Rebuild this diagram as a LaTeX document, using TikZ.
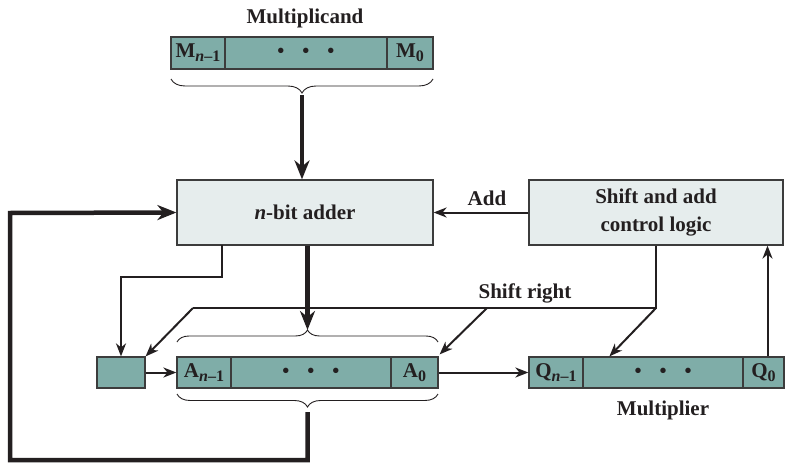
\documentclass[tikz,border=0pt]{standalone}
\usepackage{fontspec}
\setmainfont{Liberation Serif}
\usetikzlibrary{arrows.meta,decorations.pathreplacing}
\definecolor{regfill}{RGB}{127,173,168}
\definecolor{boxfill}{RGB}{230,237,237}
\definecolor{edge}{RGB}{60,60,60}
\definecolor{ink}{RGB}{35,31,32}
\newcommand{\lsub}[1]{\raisebox{-0.4ex}{\fontsize{16}{16}\selectfont #1}}
\newcommand{\threedots}{{\fontsize{20}{20}\selectfont •\hspace{18pt}•\hspace{18pt}•}}
\begin{document}
\begin{tikzpicture}[x=1pt,y=-1pt,
  font=\fontsize{21}{28}\selectfont\bfseries, text=ink,
  cell/.style={draw=edge, line width=1.2pt, fill=regfill, inner sep=0pt, minimum height=31pt},
  unit/.style={draw=edge, line width=1.2pt, fill=boxfill, inner sep=0pt, minimum height=65pt, align=center},
  lbl/.style={inner sep=0pt},
  thinline/.style={draw=ink, line width=2pt},
  thinarrow/.style={thinline, -{Stealth[length=13pt,width=10pt,inset=4pt]}},
  thickline/.style={draw=ink, line width=4.5pt},
  thickarrow/.style={thickline, -{Stealth[length=19pt,width=15pt,inset=6pt]}},
  bracestyle/.style={draw=ink, line width=0.9pt, decorate, decoration={brace, amplitude=13pt}},
  bracedown/.style={draw=ink, line width=0.9pt, decorate, decoration={brace, mirror, amplitude=14pt}}
]
\useasboundingbox (0,0) rectangle (785,463);

% Multiplicand
\node[lbl] (mlabel) at (305,18) {Multiplicand};
\node[cell, minimum width=54pt, minimum height=32pt] (m1) at (198,53) {M\lsub{\textit{n}–1}};
\node[cell, minimum width=162pt, minimum height=32pt] (m2) at (306,53) {\threedots};
\node[cell, minimum width=46pt, minimum height=32pt] (m3) at (410,53) {M\lsub{0}};
\draw[bracedown] (171,79) -- (433,79);
\coordinate (mtip) at (302,95);

% Units
\node[unit, minimum width=256pt] (adder) at (305,212.5) {\textit{n}-bit adder};
\node[unit, minimum width=254pt] (ctrl) at (656,212.5) {Shift and add\\control logic};

% A register
\node[cell, minimum width=48pt] (cbox) at (121,372.5) {};
\node[cell, minimum width=54pt] (a1) at (204,372.5) {A\lsub{\textit{n}–1}};
\node[cell, minimum width=160pt] (a2) at (311,372.5) {\threedots};
\node[cell, minimum width=47pt] (a3) at (414.5,372.5) {A\lsub{0}};
\draw[bracestyle, decoration={amplitude=12pt}] (177,342) -- (438,342);
\draw[bracedown, decoration={amplitude=13pt}] (177,394) -- (438,394);
\coordinate (atop) at (307.5,330);
\coordinate (abot) at (307.5,412);

% Q register
\node[cell, minimum width=54pt] (q1) at (556,372.5) {Q\lsub{\textit{n}–1}};
\node[cell, minimum width=160pt] (q2) at (663,372.5) {\threedots};
\node[cell, minimum width=41pt] (q3) at (763.5,372.5) {Q\lsub{0}};
\node[lbl] (qlabel) at (663,410) {Multiplier};

% Labels
\node[lbl] (addlabel) at (487,198) {Add};
\node[lbl] (srlabel) at (525,293) {Shift right};

% Connectors
\draw[thickarrow] (mtip) -- (mtip |- adder.north);
\draw[thickarrow] (adder.south -| atop) -- (atop);
\draw[thickarrow, line join=miter] (abot) -- (307.5,460) -- (10,460) -- (10,213) -- (adder.west);
\draw[thinarrow] (ctrl.west) -- (adder.east);
\draw[thinarrow] (222,245) -- (222,277) -- (121,277) -- (cbox.north);
\coordinate (sj) at (656,308);
\coordinate (sl) at (193,308);
\coordinate (sm) at (487,308);
\draw[thinline] (ctrl.south) -- (sj) -- (sl);
\draw[thinarrow] (sl) -- (cbox.north east);
\draw[thinarrow] (sm) -- ([xshift=1pt,yshift=2pt]a3.north east);
\draw[thinarrow] (sj) -- ([xshift=27pt]q2.north west);
\draw[thinarrow] (cbox.east) -- (a1.west);
\draw[thinarrow] (a3.east) -- (q1.west);
\draw[thinarrow] ([xshift=4pt]q3.north) -- ([xshift=4pt]q3.north |- ctrl.south);
\end{tikzpicture}
\end{document}
